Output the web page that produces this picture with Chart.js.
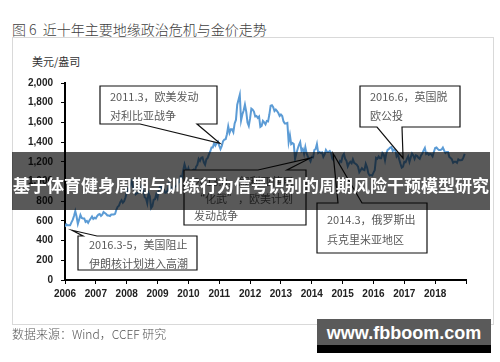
<!DOCTYPE html>
<html lang="zh-CN">
<head>
  <meta charset="UTF-8">
  <title>近十年主要地缘政治危机与金价走势</title>
  <script src="https://cdn.jsdelivr.net/npm/chart.js"></script>
  <style>
    body {
      margin: 0;
      width: 500px;
      height: 362px;
      background: #fff;
      position: relative;
      overflow: hidden;
      font-family: "Noto Sans CJK SC", sans-serif;
    }

    #title {
      position: absolute;
      left: 12px;
      top: 19px;
      font-size: 14px;
      font-weight: 300;
      color: #404040;
      white-space: pre;
    }

    #frame {
      position: absolute;
      left: 12px;
      top: 37px;
      width: 480px;
      height: 286px;
      border: 1px solid #d9d9d9;
    }

    #unit {
      position: absolute;
      left: 32px;
      top: 53px;
      font-size: 11px;
      color: #333;
    }

    #goldChart {
      position: absolute;
      left: 0;
      top: 0;
    }

    #banner {
      position: absolute;
      left: 12px;
      top: 152px;
      width: 478px;
      height: 58px;
      background: rgba(0, 0, 0, 0.65);
      color: #fff;
      font-weight: bold;
      font-size: 17px;
      line-height: 17px;
      text-align: center;
      box-sizing: border-box;
      padding-top: 24px;
      white-space: nowrap;
    }

    #source {
      position: absolute;
      left: 12px;
      top: 325px;
      font-size: 12px;
      font-weight: 300;
      color: #555;
    }

    #mark {
      position: absolute;
      left: 317px;
      top: 319px;
      width: 174px;
      height: 34px;
      background: linear-gradient(#5a5a5a 0, #5a5a5a 26px, #000 26px);
      color: #fff;
      font-family: "Liberation Sans", Arial, sans-serif;
      font-weight: bold;
      font-size: 18px;
      line-height: 18px;
      text-align: center;
      box-sizing: border-box;
      padding-top: 5px;
    }
  </style>
</head>
<body>

  <div id="title">图 6  近十年主要地缘政治危机与金价走势</div>
  <div id="frame"></div>
  <div id="unit">美元/盎司</div>
  <canvas id="goldChart" width="500" height="362"></canvas>
  <div id="banner">基于体育健身周期与训练行为信号识别的周期风险干预模型研究</div>
  <div id="source">数据来源：Wind，CCEF 研究</div>
  <div id="mark">www.fbboom.com</div>

  <script>
    // x axis years and y axis ticks
    const startYear = 2006;
    const yearTicks = [2006, 2007, 2008, 2009, 2010, 2011, 2012, 2013, 2014, 2015, 2016, 2017, 2018];
    const priceTicks = [0, 200, 400, 600, 800, 1000, 1200, 1400, 1600, 1800, 2000];

    // gold price, USD/oz, two readings per month from Jan 2006
    const goldPrice = [
      540, 565, 555, 555, 555, 585, 610, 650, 700, 645, 570, 615,
      660, 630, 625, 625, 590, 600, 580, 605, 625, 645, 620, 632,          // 2006
      625, 650, 665, 670, 650, 663, 690, 680, 670, 655, 655, 650,
      665, 665, 665, 672, 715, 743, 755, 790, 810, 785, 800, 835,          // 2007
      890, 925, 915, 970, 1000, 930, 920, 870, 880, 885, 890, 930,
      960, 915, 840, 830, 780, 880, 850, 730, 750, 815, 820, 870,          // 2008
      835, 920, 945, 950, 920, 915, 885, 890, 915, 975, 950, 925,
      920, 950, 950, 955, 1000, 995, 1050, 1040, 1115, 1175, 1130, 1095,   // 2009
      1135, 1085, 1090, 1110, 1120, 1105, 1150, 1170, 1230, 1210, 1240, 1245,
      1195, 1170, 1225, 1240, 1275, 1305, 1345, 1345, 1390, 1365, 1390, 1405, // 2010
      1365, 1330, 1360, 1410, 1425, 1430, 1480, 1560, 1495, 1530, 1530, 1500,
      1590, 1625, 1780, 1830, 1880, 1620, 1680, 1720, 1780, 1710, 1600, 1565, // 2011
      1640, 1740, 1730, 1710, 1660, 1665, 1645, 1660, 1555, 1565, 1615, 1600,
      1580, 1615, 1610, 1680, 1770, 1775, 1755, 1715, 1730, 1715, 1695, 1665, // 2012
      1680, 1665, 1610, 1590, 1590, 1595, 1400, 1470, 1380, 1390, 1380, 1230,
      1285, 1330, 1370, 1400, 1310, 1330, 1280, 1350, 1285, 1250, 1230, 1205, // 2013
      1250, 1245, 1320, 1330, 1380, 1290, 1300, 1290, 1295, 1250, 1275, 1320,
      1300, 1300, 1310, 1290, 1230, 1215, 1240, 1175, 1185, 1170, 1210, 1200, // 2014
      1260, 1280, 1230, 1210, 1155, 1185, 1200, 1185, 1225, 1190, 1180, 1170,
      1150, 1095, 1115, 1135, 1120, 1115, 1180, 1145, 1085, 1060, 1065, 1060, // 2015
      1090, 1115, 1240, 1230, 1255, 1235, 1235, 1290, 1275, 1215, 1285, 1320,
      1330, 1345, 1350, 1310, 1325, 1320, 1255, 1275, 1225, 1180, 1140, 1150, // 2016
      1200, 1195, 1230, 1255, 1200, 1245, 1285, 1265, 1230, 1265, 1260, 1240,
      1230, 1265, 1285, 1315, 1340, 1280, 1290, 1270, 1280, 1275, 1255, 1300, // 2017
      1340, 1345, 1330, 1320, 1320, 1325, 1345, 1315, 1290, 1300, 1300, 1250,
      1240, 1225, 1190, 1200, 1200, 1190, 1225, 1215, 1215, 1220, 1245, 1280  // 2018
    ];

    // callouts: text lines and the point (year, price) each one points at
    const eventText = [
      ['2011.3，欧美发动', '对利比亚战争'],
      ['2016.6，英国脱', '欧公投'],
      ['2013.8，叙利亚使用', '\u201c化武\u201d，欧美计划', '发动战争'],
      ['2014.3，俄罗斯出', '兵克里米亚地区'],
      ['2016.3-5，美国阻止', '伊朗核计划进入高潮']
    ];
    const eventYear = [2011.02, 2016.96, 2013.94, 2014.69, 2006.23];
    const eventPrice = [1388, 1236, 1236, 1286, 505];

    const points = goldPrice.map((v, i) => ({ x: startYear + i / 24, y: v }));

    // box [left, top, right, bottom], pointer base on 'top' or 'bottom' edge
    const boxes = [
      { box: [100, 86, 217, 124], side: 'bottom', base: [140, 197], textX: 110, textY: [97, 116] },
      { box: [360, 86, 460, 127], side: 'bottom', base: [377, 402], textX: 370, textY: [97, 116] },
      { box: [184, 170, 306, 225], side: 'top', base: [258, 287], textX: 194, textY: [182, 199, 216] },
      { box: [317, 203, 427, 253], side: 'top', base: [338, 362], textX: 327, textY: [220, 240] },
      { box: [78, 236, 197, 270], side: 'top', base: [83, 97], textX: 89, textY: [245, 264] }
    ];

    const calloutPlugin = {
      id: 'callouts',
      afterDatasetsDraw(chart) {
        const ctx = chart.ctx;
        const xs = chart.scales.x;
        const ys = chart.scales.y;
        ctx.save();
        boxes.forEach((b, i) => {
          const [l, t, r, btm] = b.box;
          const tx = xs.getPixelForValue(eventYear[i]);
          const ty = ys.getPixelForValue(eventPrice[i]);
          ctx.beginPath();
          if (b.side === 'bottom') {
            ctx.moveTo(l, t);
            ctx.lineTo(r, t);
            ctx.lineTo(r, btm);
            ctx.lineTo(b.base[1], btm);
            ctx.lineTo(tx, ty);
            ctx.lineTo(b.base[0], btm);
            ctx.lineTo(l, btm);
          } else {
            ctx.moveTo(l, t);
            ctx.lineTo(b.base[0], t);
            ctx.lineTo(tx, ty);
            ctx.lineTo(b.base[1], t);
            ctx.lineTo(r, t);
            ctx.lineTo(r, btm);
            ctx.lineTo(l, btm);
          }
          ctx.closePath();
          ctx.fillStyle = '#fff';
          ctx.fill();
          ctx.lineWidth = 1.2;
          ctx.strokeStyle = '#111';
          ctx.stroke();

          ctx.fillStyle = '#595959';
          ctx.font = '11px "Noto Sans CJK SC", sans-serif';
          ctx.textBaseline = 'middle';
          ctx.textAlign = 'left';
          eventText[i].forEach((line, j) => {
            ctx.fillText(line, b.textX, b.textY[j]);
          });
        });
        ctx.restore();
      }
    };

    const ctx = document.getElementById('goldChart').getContext('2d');
    new Chart(ctx, {
      type: 'line',
      data: {
        datasets: [{
          data: points,
          borderColor: '#5b9bd5',
          borderWidth: 2,
          pointRadius: 0,
          tension: 0
        }]
      },
      options: {
        responsive: false,
        animation: false,
        layout: {
          padding: { left: 0, top: 83, right: 34, bottom: 0 }
        },
        plugins: {
          legend: { display: false },
          tooltip: { enabled: false }
        },
        scales: {
          x: {
            type: 'linear',
            min: startYear,
            max: 2019,
            afterBuildTicks: (s) => {
              s.ticks = yearTicks.concat([2019]).map(v => ({ value: v }));
            },
            afterFit: (s) => { s.height = 82; },
            grid: {
              drawOnChartArea: false,
              tickLength: 4,
              color: '#000'
            },
            border: { color: '#000', width: 2 },
            ticks: {
              maxRotation: 0,
              autoSkip: false,
              padding: 4,
              color: '#222',
              font: { family: 'Liberation Sans', size: 10, weight: 'bold' },
              callback: (v) => (yearTicks.includes(v) ? String(v) : '')
            }
          },
          y: {
            min: 0,
            max: 2000,
            afterBuildTicks: (s) => {
              s.ticks = priceTicks.map(v => ({ value: v }));
            },
            afterFit: (s) => { s.width = 65; },
            grid: {
              drawOnChartArea: false,
              tickLength: 4,
              color: '#000'
            },
            border: { color: '#000', width: 2 },
            ticks: {
              padding: 8,
              color: '#222',
              font: { family: 'Liberation Sans', size: 10, weight: 'bold' },
              callback: (v) => v.toLocaleString('en-US')
            }
          }
        }
      },
      plugins: [calloutPlugin]
    });
  </script>

</body>
</html>
